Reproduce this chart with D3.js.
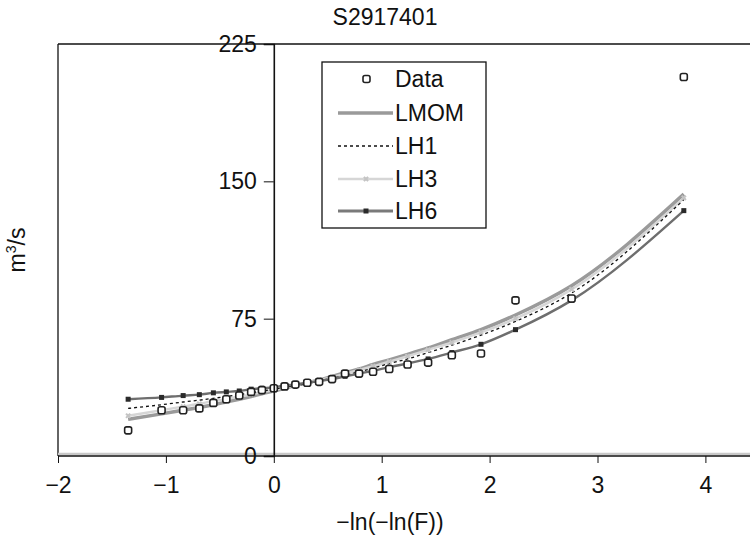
<!DOCTYPE html>
<html>
<head>
<meta charset="utf-8">
<script src="https://cdn.jsdelivr.net/npm/d3@7"></script>
<style>
  body { margin: 0; background: #fff; }
  text { font-family: "Liberation Sans", Arial, sans-serif; fill: #111; }
</style>
</head>
<body>
<div id="chart"></div>
<script>
// plotting positions -ln(-ln(F)) of the 26 annual maxima
var xPos = [-1.35, -1.04, -0.84, -0.69, -0.56, -0.44, -0.32, -0.21, -0.11, 0.0,
            0.10, 0.20, 0.31, 0.42, 0.54, 0.66, 0.79, 0.92, 1.07, 1.24,
            1.43, 1.65, 1.92, 2.24, 2.76, 3.80];
// observed flows (m3/s)
var observed = [14, 25, 25, 26, 29, 31, 33, 35, 36, 37,
                38, 39, 40, 40.5, 42, 45, 45, 46, 47.5, 50,
                51, 55, 56, 85, 86, 207];
// fitted quantiles
var lmom = [20, 23, 25, 26.5, 28, 29.5, 31, 32.5, 34, 35.5,
            37, 38.5, 40, 41.5, 43.5, 45.5, 47.5, 50, 52.5, 55.5,
            59, 63.5, 69, 77, 93, 143];
var lh1 = [26, 28, 29.5, 30.5, 31.5, 32.5, 33.5, 34.5, 35.5, 36.5,
           37.5, 38.5, 39.5, 41, 42.5, 44, 46, 48, 50.5, 53,
           56.5, 60.5, 66, 73.5, 89, 140];
var lh3 = [22, 25, 27, 28.5, 30, 31, 32.5, 33.5, 35, 36,
           37.5, 38.5, 40, 41.5, 43, 45, 47, 49, 51.5, 54.5,
           58, 62, 67.5, 75, 91, 141];
var lh6 = [31, 32, 33, 33.5, 34.5, 35, 35.5, 36.5, 37, 37.5,
           38.5, 39, 40, 41, 42, 43.5, 45, 46.5, 48.5, 50.5,
           53, 56.5, 61, 69, 85, 134];

var xTicks = [-2, -1, 0, 1, 2, 3, 4];
var yTicks = [0, 75, 150, 225];
var legendNames = ['Data', 'LMOM', 'LH1', 'LH3', 'LH6'];

var FS = 23;
var svg = d3.select('#chart').append('svg')
    .attr('width', 750)
    .attr('height', 536);

var x = d3.scaleLinear().domain([-2, 4.5]).range([58, 58 + 6.5 * 107.9]);
var y = d3.scaleLinear().domain([0, 225]).range([456, 44]);

// Frame
svg.append('line').attr('x1', 58).attr('x2', 750).attr('y1', 44).attr('y2', 44)
    .attr('stroke', '#111').attr('stroke-width', 1.3);
svg.append('line').attr('x1', 58).attr('x2', 58).attr('y1', 44).attr('y2', 456)
    .attr('stroke', '#111').attr('stroke-width', 1.3);
svg.append('line').attr('x1', 58).attr('x2', 750).attr('y1', 454).attr('y2', 454)
    .attr('stroke', '#c8c8c8').attr('stroke-width', 2.5);

// Curves
function series(vals) {
    return xPos.map(function(d, i) { return [d, vals[i]]; });
}
var line = d3.line()
    .x(function(d) { return x(d[0]); })
    .y(function(d) { return y(d[1]); })
    .curve(d3.curveMonotoneX);

svg.append('path').datum(series(lmom)).attr('d', line)
    .attr('fill', 'none').attr('stroke', '#9a9a9a').attr('stroke-width', 3.5);
svg.append('path').datum(series(lh3)).attr('d', line)
    .attr('fill', 'none').attr('stroke', '#d6d6d6').attr('stroke-width', 2.5);
svg.append('path').datum(series(lh1)).attr('d', line)
    .attr('fill', 'none').attr('stroke', '#111').attr('stroke-width', 1.3)
    .attr('stroke-dasharray', '3,3');
svg.append('path').datum(series(lh6)).attr('d', line)
    .attr('fill', 'none').attr('stroke', '#6e6e6e').attr('stroke-width', 2.4);

// LH3 x markers
var crossSym = d3.symbol().type(d3.symbolCross).size(20);
svg.selectAll('.lh3m').data(series(lh3)).enter().append('path')
    .attr('class', 'lh3m')
    .attr('d', crossSym)
    .attr('transform', function(d) { return 'translate(' + x(d[0]) + ',' + y(d[1]) + ') rotate(45)'; })
    .attr('fill', '#c4c4c4');

// LH6 square markers
svg.selectAll('.lh6m').data(series(lh6)).enter().append('rect')
    .attr('class', 'lh6m')
    .attr('x', function(d) { return x(d[0]) - 2.5; })
    .attr('y', function(d) { return y(d[1]) - 2.5; })
    .attr('width', 5).attr('height', 5)
    .attr('fill', '#2a2a2a');

// Observed data
svg.selectAll('.obs').data(series(observed)).enter().append('rect')
    .attr('class', 'obs')
    .attr('x', function(d) { return x(d[0]) - 3.5; })
    .attr('y', function(d) { return y(d[1]) - 3.5; })
    .attr('width', 7).attr('height', 7).attr('rx', 2)
    .attr('fill', '#fff').attr('stroke', '#222').attr('stroke-width', 1.6);

// Y axis at x = 0
var yAxis = svg.append('g')
    .attr('transform', 'translate(' + x(0) + ',0)')
    .call(d3.axisLeft(y).tickValues(yTicks).tickSize(10).tickPadding(7));
yAxis.select('.domain').attr('stroke', '#111').attr('stroke-width', 1.6);
yAxis.selectAll('line').attr('stroke', '#111');
yAxis.selectAll('text').attr('font-size', FS).attr('font-family', '"Liberation Sans", Arial, sans-serif').attr('fill', '#111');

// X axis
var xAxis = svg.append('g')
    .attr('transform', 'translate(0,456)')
    .call(d3.axisBottom(x).tickValues(xTicks).tickFormat(d3.format('d')).tickSize(7).tickPadding(0));
xAxis.select('.domain').remove();
xAxis.append('line').attr('x1', 58).attr('x2', 750).attr('stroke', '#111').attr('stroke-width', 1.6);
xAxis.selectAll('line').attr('stroke', '#111');
xAxis.selectAll('text').attr('y', 21).attr('font-size', FS)
    .attr('font-family', '"Liberation Sans", Arial, sans-serif').attr('fill', '#111');

// Titles
svg.append('text').attr('x', 385).attr('y', 25).attr('text-anchor', 'middle')
    .attr('font-size', FS).text('S2917401');
svg.append('text').attr('x', 390).attr('y', 530).attr('text-anchor', 'middle')
    .attr('font-size', FS).text('\u2212ln(\u2212ln(F))');
svg.append('text').attr('transform', 'translate(25,250) rotate(-90)')
    .attr('text-anchor', 'middle').attr('font-size', FS)
    .html('m<tspan font-size="14" dy="-9">3</tspan><tspan dy="9">/s</tspan>');

// Legend
var lg = svg.append('g');
lg.append('rect').attr('x', 322).attr('y', 62).attr('width', 164).attr('height', 166)
    .attr('fill', '#fff').attr('stroke', '#111').attr('stroke-width', 1.3);
var rowY = [79, 113, 146, 179, 211];
legendNames.forEach(function(name, i) {
    var ry = rowY[i];
    if (name === 'Data') {
        lg.append('rect').attr('x', 363).attr('y', ry - 3.5).attr('width', 7).attr('height', 7)
            .attr('rx', 2).attr('fill', '#fff').attr('stroke', '#222').attr('stroke-width', 1.6);
    } else if (name === 'LMOM') {
        lg.append('line').attr('x1', 338).attr('x2', 393).attr('y1', ry).attr('y2', ry)
            .attr('stroke', '#9a9a9a').attr('stroke-width', 3.5);
    } else if (name === 'LH1') {
        lg.append('line').attr('x1', 338).attr('x2', 393).attr('y1', ry).attr('y2', ry)
            .attr('stroke', '#111').attr('stroke-width', 1.3).attr('stroke-dasharray', '3,3');
    } else if (name === 'LH3') {
        lg.append('line').attr('x1', 338).attr('x2', 393).attr('y1', ry).attr('y2', ry)
            .attr('stroke', '#d6d6d6').attr('stroke-width', 2.5);
        lg.append('path').attr('d', crossSym)
            .attr('transform', 'translate(366,' + ry + ') rotate(45)').attr('fill', '#c4c4c4');
    } else {
        lg.append('line').attr('x1', 338).attr('x2', 393).attr('y1', ry).attr('y2', ry)
            .attr('stroke', '#7a7a7a').attr('stroke-width', 2.8);
        lg.append('rect').attr('x', 363.5).attr('y', ry - 2.5).attr('width', 5).attr('height', 5)
            .attr('fill', '#2a2a2a');
    }
    lg.append('text').attr('x', 395).attr('y', ry).attr('dy', '0.36em')
        .attr('font-size', FS).text(name);
});
</script>
</body>
</html>
